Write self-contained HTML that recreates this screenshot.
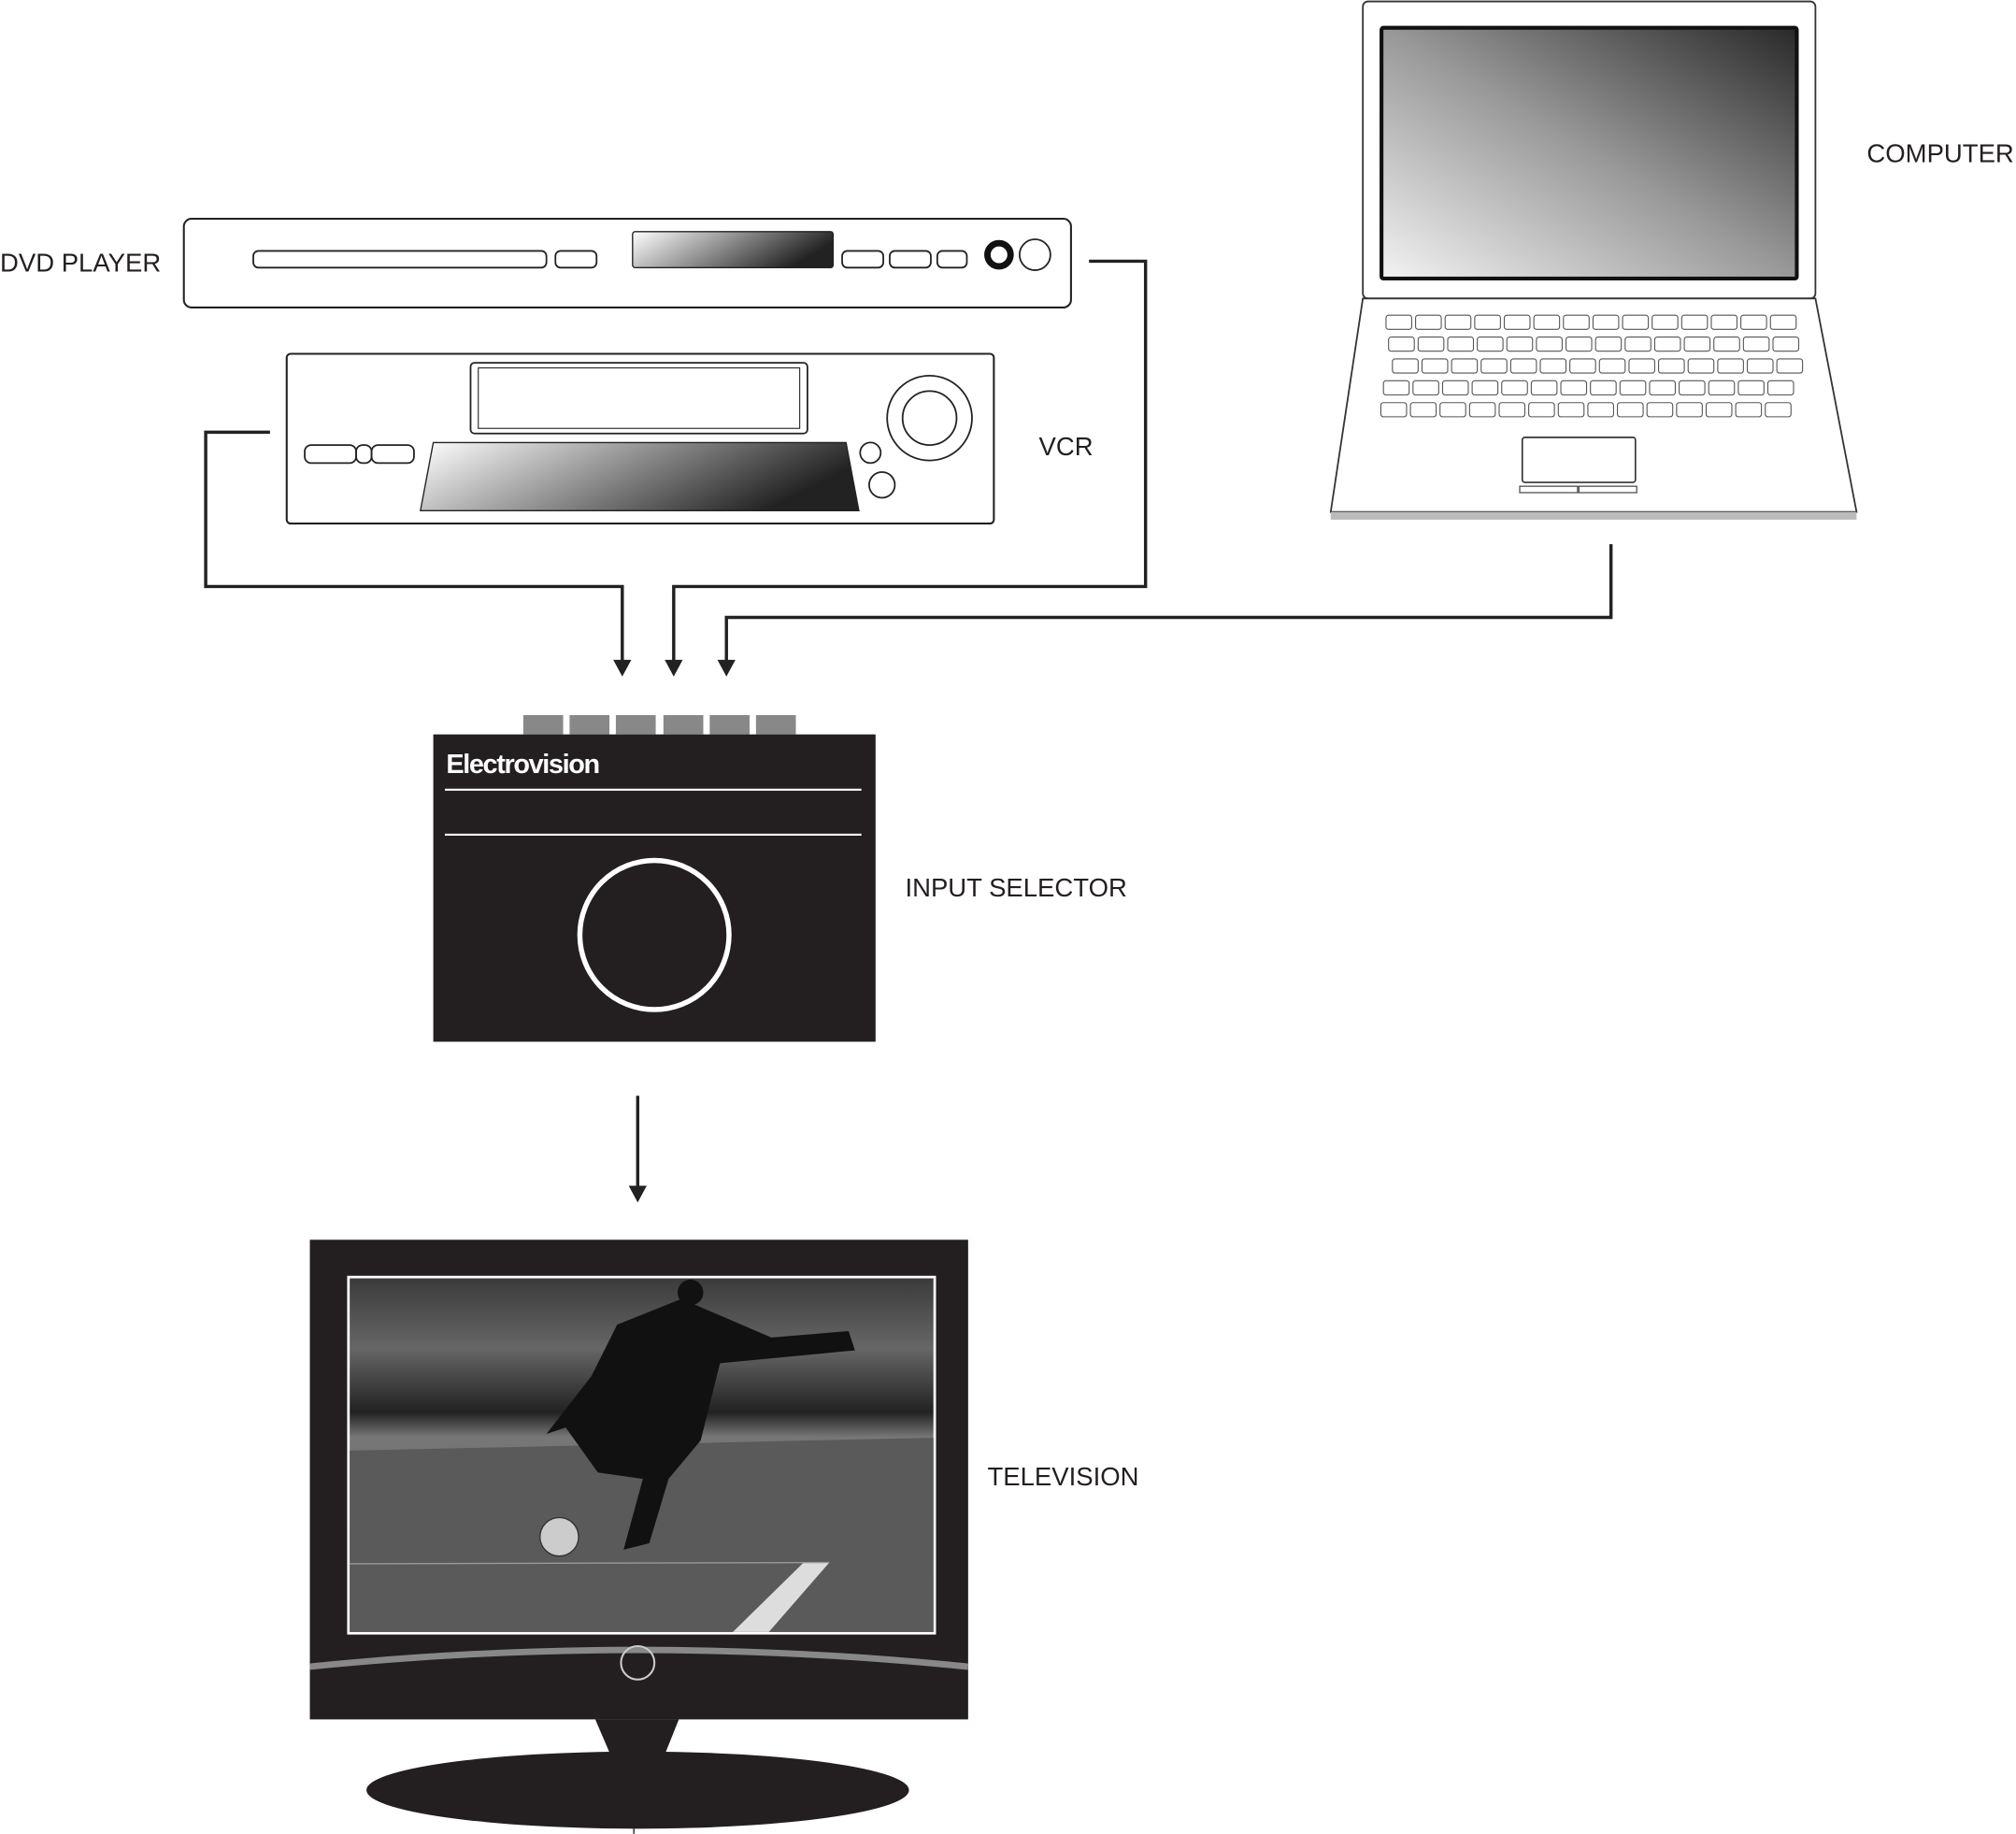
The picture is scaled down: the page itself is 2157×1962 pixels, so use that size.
<!DOCTYPE html>
<html><head><meta charset="utf-8"><style>
html,body{margin:0;padding:0;background:#fff;}
svg{display:block}
text{font-family:"Liberation Sans",sans-serif;}
</style></head><body>
<svg width="2157" height="1962" viewBox="0 0 1568 1426" xmlns="http://www.w3.org/2000/svg">
<defs>
<linearGradient id="g1" x1="0" y1="0" x2="1" y2="0.3"><stop offset="0" stop-color="#fff"/><stop offset="1" stop-color="#222"/></linearGradient>
<linearGradient id="g2" x1="0" y1="1" x2="1" y2="0"><stop offset="0" stop-color="#f2f2f2"/><stop offset="0.5" stop-color="#999"/><stop offset="1" stop-color="#2a2a2a"/></linearGradient>
<linearGradient id="field" x1="0" y1="0" x2="0" y2="1"><stop offset="0" stop-color="#3a3a3a"/><stop offset="0.2" stop-color="#666"/><stop offset="0.38" stop-color="#222"/><stop offset="0.45" stop-color="#777"/><stop offset="1" stop-color="#555"/></linearGradient>
<g id="row" fill="#fff" stroke="#555" stroke-width="0.8">
<rect x="0" y="0" width="20" height="11" rx="2"/><rect x="23" y="0" width="20" height="11" rx="2"/>
<rect x="46" y="0" width="20" height="11" rx="2"/><rect x="69" y="0" width="20" height="11" rx="2"/>
<rect x="92" y="0" width="20" height="11" rx="2"/><rect x="115" y="0" width="20" height="11" rx="2"/>
<rect x="138" y="0" width="20" height="11" rx="2"/><rect x="161" y="0" width="20" height="11" rx="2"/>
<rect x="184" y="0" width="20" height="11" rx="2"/><rect x="207" y="0" width="20" height="11" rx="2"/>
<rect x="230" y="0" width="20" height="11" rx="2"/><rect x="253" y="0" width="20" height="11" rx="2"/>
<rect x="276" y="0" width="20" height="11" rx="2"/><rect x="299" y="0" width="20" height="11" rx="2"/>
</g>
</defs>

<!-- DVD -->
<rect x="143" y="170" width="690" height="69" rx="6" fill="#fff" stroke="#222" stroke-width="1.5"/>
<rect x="197" y="195" width="228" height="13" rx="4" fill="none" stroke="#222" stroke-width="1.3"/>
<rect x="432" y="195" width="32" height="13" rx="4" fill="none" stroke="#222" stroke-width="1.3"/>
<rect x="492" y="180" width="156" height="28" rx="2" fill="url(#g1)" stroke="#222"/>
<rect x="655" y="195" width="32" height="13" rx="4" fill="none" stroke="#222" stroke-width="1.3"/>
<rect x="692" y="195" width="32" height="13" rx="4" fill="none" stroke="#222" stroke-width="1.3"/>
<rect x="729" y="195" width="23" height="13" rx="4" fill="none" stroke="#222" stroke-width="1.3"/>
<circle cx="777" cy="198" r="9" fill="#fff" stroke="#111" stroke-width="5"/>
<circle cx="805" cy="198" r="12" fill="none" stroke="#222" stroke-width="1.3"/>

<!-- VCR -->
<rect x="223" y="275" width="550" height="132" rx="3" fill="#fff" stroke="#222" stroke-width="1.5"/>
<rect x="366" y="282" width="262" height="55" rx="3" fill="none" stroke="#222" stroke-width="1.3"/>
<rect x="372" y="286" width="250" height="47" fill="none" stroke="#222" stroke-width="0.8"/>
<rect x="237" y="346" width="40" height="14" rx="5" fill="none" stroke="#222" stroke-width="1.3"/>
<rect x="277" y="346" width="12" height="14" rx="5" fill="none" stroke="#222" stroke-width="1.3"/>
<rect x="289" y="346" width="33" height="14" rx="5" fill="none" stroke="#222" stroke-width="1.3"/>
<path d="M337,344 L658,344 L668,397 L327,397 Z" fill="url(#g1)" stroke="#222"/>
<circle cx="677" cy="352" r="8" fill="none" stroke="#222" stroke-width="1.3"/>
<circle cx="686" cy="377" r="10" fill="none" stroke="#222" stroke-width="1.3"/>
<circle cx="723" cy="325" r="33" fill="none" stroke="#222" stroke-width="1.3"/>
<circle cx="723" cy="325" r="21" fill="none" stroke="#222" stroke-width="1.3"/>

<!-- laptop -->
<rect x="1060" y="1" width="352" height="231" rx="4" fill="#fff" stroke="#333" stroke-width="1.3"/>
<rect x="1073" y="20" width="326" height="198" rx="3" fill="#111"/>
<rect x="1076" y="23" width="320" height="192" fill="url(#g2)"/>
<path d="M1060,232 L1412,232 L1444,398 L1035,398 Z" fill="#fff" stroke="#333" stroke-width="1.3"/>
<rect x="1035" y="398" width="409" height="6" fill="#bbb"/>
<use href="#row" transform="translate(1078,245)"/>
<use href="#row" transform="translate(1080,262)"/>
<use href="#row" transform="translate(1083,279)"/>
<use href="#row" transform="translate(1076,296)"/>
<use href="#row" transform="translate(1074,313)"/>
<rect x="1184" y="340" width="88" height="35" rx="2" fill="#fff" stroke="#333" stroke-width="1.2"/>
<rect x="1182" y="378" width="45" height="5" fill="#fff" stroke="#333" stroke-width="0.8"/>
<rect x="1228" y="378" width="45" height="5" fill="#fff" stroke="#333" stroke-width="0.8"/>

<!-- connectors -->
<g fill="none" stroke="#222" stroke-width="2.5">
<path d="M847,203 L891,203 L891,456 L524,456 L524,518"/>
<path d="M210,336 L160,336 L160,456 L484,456 L484,518"/>
<path d="M1253,423 L1253,480 L565,480 L565,518"/>
<path d="M496,852 L496,926"/>
</g>
<g fill="#222">
<path d="M477,513 L491,513 L484,526 Z"/>
<path d="M517,513 L531,513 L524,526 Z"/>
<path d="M558,513 L572,513 L565,526 Z"/>
<path d="M489,922 L503,922 L496,935 Z"/>
</g>

<!-- input selector -->
<g fill="#888">
<rect x="407" y="556" width="31" height="15"/><rect x="443" y="556" width="31" height="15"/>
<rect x="479" y="556" width="31" height="15"/><rect x="516" y="556" width="31" height="15"/>
<rect x="552" y="556" width="31" height="15"/><rect x="588" y="556" width="31" height="15"/>
</g>
<rect x="337" y="571" width="344" height="239" fill="#231f20"/>
<text x="347" y="601" font-size="21" font-weight="bold" fill="#fff" letter-spacing="-1">Electrovision</text>
<line x1="346" y1="614" x2="670" y2="614" stroke="#fff" stroke-width="1.5"/>
<line x1="346" y1="649" x2="670" y2="649" stroke="#fff" stroke-width="1.5"/>
<circle cx="509" cy="727" r="58" fill="none" stroke="#fff" stroke-width="4"/>

<!-- TV -->
<rect x="241" y="964" width="512" height="373" fill="#231f20"/>
<rect x="271" y="993" width="456" height="277" fill="url(#field)" stroke="#fff" stroke-width="2"/>
<path d="M272,1128 L726,1118 L726,1269 L272,1269 Z" fill="#5a5a5a"/>
<path d="M570,1269 L598,1269 L645,1215 L625,1215 Z" fill="#ddd"/>
<path d="M272,1216 L645,1215" stroke="#999" stroke-width="1"/>
<path d="M480,1030 L530,1010 L600,1040 L660,1035 L665,1050 L560,1060 L545,1120 L520,1150 L505,1200 L485,1205 L500,1150 L465,1145 L440,1110 L425,1115 L460,1070 Z" fill="#111"/>
<circle cx="537" cy="1005" r="10" fill="#111"/>
<circle cx="435" cy="1195" r="15" fill="#ccc" stroke="#333"/>
<path d="M241,1296 Q496,1270 753,1296" fill="none" stroke="#888" stroke-width="5"/>
<circle cx="496" cy="1293" r="13" fill="none" stroke="#ccc" stroke-width="1.5"/>
<path d="M463,1337 L528,1337 L514,1372 L478,1372 Z" fill="#231f20"/>
<ellipse cx="496" cy="1392" rx="211" ry="30" fill="#231f20"/>
<line x1="493" y1="1420" x2="493" y2="1426" stroke="#231f20"/>

<!-- labels -->
<g font-size="20" fill="#231f20">
<text x="0" y="211">DVD PLAYER</text>
<text x="808" y="354">VCR</text>
<text x="1452" y="126">COMPUTER</text>
<text x="704" y="697">INPUT SELECTOR</text>
<text x="768" y="1155">TELEVISION</text>
</g>
</svg>
</body></html>
